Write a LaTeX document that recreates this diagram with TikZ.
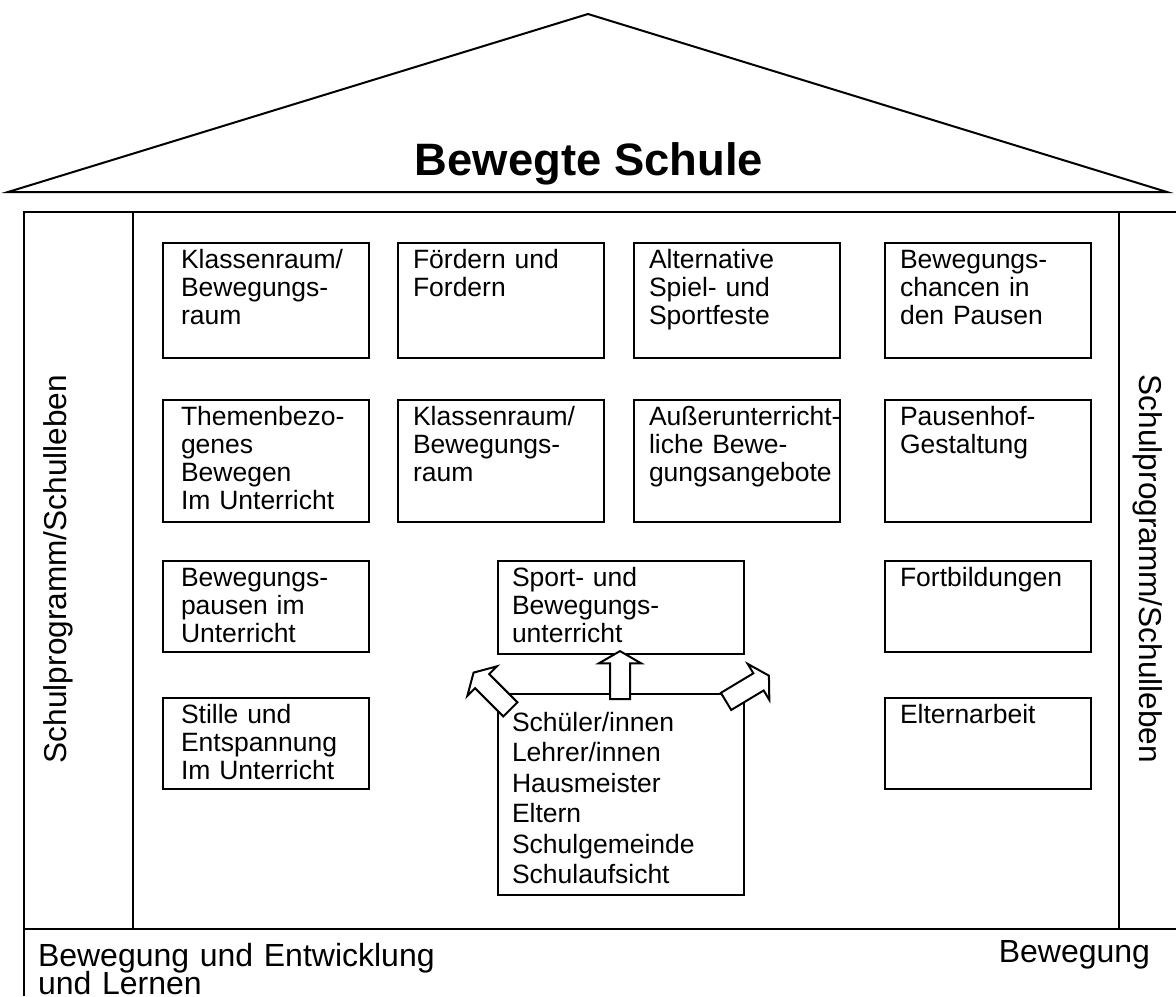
\documentclass[tikz,border=0pt]{standalone}
\usepackage{fontspec}
\setmainfont{Liberation Sans}
\usetikzlibrary{shapes}

\begin{document}
\begin{tikzpicture}[x=0.5pt, y=-0.5pt, line width=1pt,
  box/.style={draw, rectangle, anchor=north west, align=left,
    inner xsep=7.5pt, inner ysep=3pt, text width=88pt,
    text height=9.5pt, text depth=45.5pt,
    font=\fontsize{13.25pt}{14pt}\selectfont},
  firstcol/.style={inner xsep=9pt, text width=85pt},
  tallbox/.style={text depth=42pt},
  lowbox/.style={text depth=30pt},
  widebox/.style={inner xsep=7pt, text width=109pt},
  sidetext/.style={font=\fontsize{15.8pt}{18pt}\selectfont, anchor=base, inner sep=0pt},
  basetext/.style={font=\fontsize{16pt}{14.5pt}\selectfont, inner sep=0pt},
  blockarrow/.style={single arrow, draw, fill=white, inner xsep=0pt, inner ysep=4.5pt,
    single arrow head extend=5.5pt, single arrow tip angle=120}]
  \useasboundingbox (0,0) rectangle (1176,996);

  % roof
  \draw (8,192) -- (588,14) -- (1167,192) -- cycle;
  \node[font=\bfseries\fontsize{22.7pt}{27pt}\selectfont, anchor=base] (title) at (589,175) {Bewegte Schule};

  % frame
  \draw (24,996) -- (24,212) -- (1176,212);
  \draw (24,929) -- (1176,929);
  \draw (133,212) -- (133,929);
  \draw (1119,212) -- (1119,929);

  \node[sidetext, rotate=90] (leftside) at (66,569) {Schulprogramm/Schulleben};
  \node[sidetext, rotate=-90] (rightside) at (1139,569) {Schulprogramm/Schulleben};

  \node[basetext, text width=250pt, align=left, anchor=base west] (leftbase) at (37,966)
    {Bewegung und Entwicklung\\[-1.6pt]und Lernen};
  \node[basetext, anchor=base east] (rightbase) at (1151,962) {Bewegung};

  % first row
  \node[box, firstcol, tallbox] (klasse1) at (162,242) {Klassenraum/\\Bewegungs-\\raum};
  \node[box, tallbox] (foerdern) at (397,242) {Fördern und\\Fordern};
  \node[box, tallbox] (feste) at (633,242) {Alternative\\Spiel- und\\Sportfeste};
  \node[box, tallbox] (pausen) at (884,242) {Bewegungs-\\chancen in\\den Pausen};

  % second row
  \node[box, firstcol] (thema) at (162,399) {Themenbezo-\\genes\\Bewegen\\Im Unterricht};
  \node[box] (klasse2) at (397,399) {Klassenraum/\\Bewegungs-\\raum};
  \node[box] (ausser) at (633,399) {\mbox{Außerunterricht-}\\liche Bewe-\\gungsangebote};
  \node[box] (pausenhof) at (884,399) {Pausenhof-\\Gestaltung};

  % third and fourth row
  \node[box, firstcol, lowbox] (bewpausen) at (162,560) {Bewegungs-\\pausen im\\Unterricht};
  \node[box, widebox, text depth=31pt] (sport) at (497,560) {Sport- und\\Bewegungs-\\unterricht};
  \node[box, lowbox] (fortbildung) at (884,560) {Fortbildungen};

  \node[box, firstcol, lowbox] (stille) at (162,697) {Stille und\\Entspannung\\Im Unterricht};
  \node[box, widebox, text height=15.5pt, text depth=79pt,
    font=\fontsize{13.25pt}{15.25pt}\selectfont] (leute) at (497,693)
    {Schüler/innen\\Lehrer/innen\\Hausmeister\\Eltern\\Schulgemeinde\\Schulaufsicht};
  \node[box, lowbox] (eltern) at (884,697) {Elternarbeit};

  % arrows
  \node[blockarrow, rotate=135, minimum height=26pt] (arrleft) at (494,693) {};
  \node[blockarrow, rotate=90, minimum height=24pt] (arrmid) at (620,678) {};
  \node[blockarrow, rotate=31, minimum height=25pt] (arrright) at (745,690) {};
\end{tikzpicture}
\end{document}
